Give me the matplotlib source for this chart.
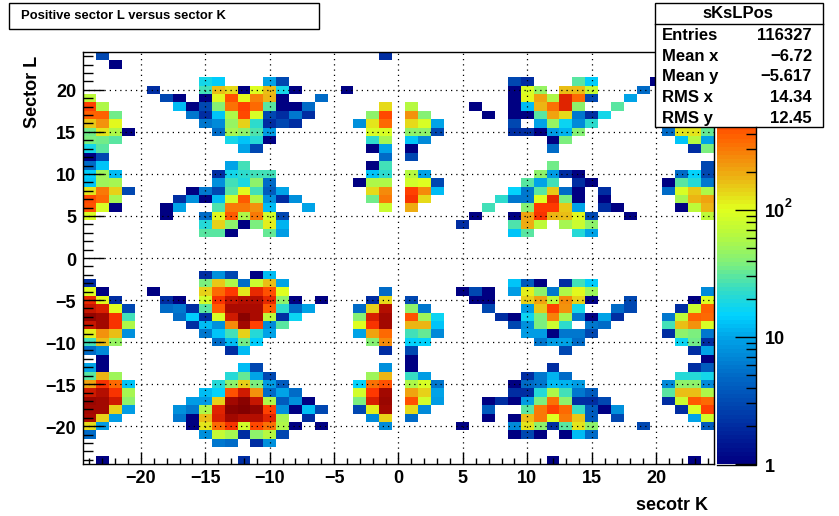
import matplotlib
matplotlib.use("Agg")
import matplotlib.pyplot as plt
import numpy as np
from matplotlib.colors import LinearSegmentedColormap, LogNorm
from matplotlib.patches import Rectangle
from matplotlib.lines import Line2D
from matplotlib.transforms import ScaledTranslation

plt.rcParams['font.family'] = ['Liberation Sans', 'DejaVu Sans']
plt.rcParams['font.weight'] = 'bold'

# bin counts, row by row: {sector K: entries}
row_p24 = {-23: 3, -1: 2}
row_p23 = {-22: 1}
row_p21 = {-15: 18, -14: 14, -10: 10, -9: 3, 9: 3, 10: 2, 14: 30, 15: 14, 20: 1}
row_p20 = {-19: 2, -15: 25, -14: 165, -13: 130, -12: 1, -11: 100, -10: 170, -9: 18, -8: 1, -4: 1,
           9: 1, 10: 95, 11: 48, 13: 170, 14: 170, 15: 75, 19: 5}
row_p19 = {-24: 70, -18: 3, -17: 1, -15: 1, -14: 110, -13: 440, -12: 110, -11: 290, -10: 180, -9: 1, -6: 5,
           9: 1, 10: 105, 11: 210, 12: 60, 13: 720, 14: 360, 15: 3, 18: 10}
row_p18 = {-24: 510, -23: 60, -17: 12, -16: 1, -15: 3, -14: 40, -13: 330, -12: 530, -11: 360, -10: 30,
           -9: 1, -8: 1, -7: 5, -1: 130, 1: 65, 6: 1, 9: 1, 10: 12, 11: 180, 12: 330, 13: 720, 14: 42, 17: 30}
row_p17 = {-24: 380, -23: 380, -22: 35, -16: 6, -15: 2, -14: 13, -13: 60, -12: 470, -11: 90, -10: 3,
           -9: 2, -8: 6, -7: 2, -2: 45, -1: 490, 1: 250, 2: 40, 7: 1, 9: 1, 10: 1, 11: 30, 12: 210,
           13: 130, 14: 6, 15: 2, 16: 18}
row_p16 = {-24: 150, -23: 250, -22: 110, -15: 6, -14: 7, -13: 48, -12: 140, -11: 22, -10: 2, -9: 3, -8: 2,
           -3: 8, -2: 120, -1: 360, 1: 130, 2: 95, 3: 10, 9: 3, 11: 10, 12: 48, 13: 17, 14: 7, 15: 22}
row_p15 = {-24: 35, -23: 120, -22: 60, -21: 1, -14: 5, -13: 55, -12: 42, -11: 28, -10: 9, -2: 95, -1: 90,
           1: 45, 2: 45, 3: 3, 9: 2, 10: 2, 11: 1, 12: 9, 13: 11, 14: 40, 21: 5, 22: 125, 23: 125, 24: 32}
row_p14 = {-24: 38, -23: 36, -22: 30, -13: 18, -12: 13, -11: 21, -10: 1, -2: 22, -1: 55,
           1: 13, 2: 7, 12: 1, 13: 38, 22: 13, 23: 65, 24: 10}
row_p13 = {-24: 18, -23: 30, -12: 10, -11: 3, -2: 1, -1: 10, 1: 1, 12: 5, 23: 2, 24: 38}
row_p12 = {-24: 1, -23: 3, -1: 5, 1: 3}
row_p11 = {-24: 5, -23: 13, -13: 10, -12: 25, -2: 1, -1: 25, 12: 36, 24: 3}
row_p10 = {-24: 14, -23: 50, -22: 12, -14: 2, -13: 18, -12: 22, -11: 25, -10: 25, -2: 13, -1: 22,
           1: 65, 2: 10, 11: 42, 12: 9, 13: 2, 14: 1, 22: 5, 23: 15, 24: 3}
row_p9 = {-24: 13, -23: 50, -22: 55, -14: 8, -13: 25, -12: 19, -11: 42, -10: 5, -3: 1, -2: 60, -1: 60,
          1: 85, 2: 100, 3: 3, 10: 30, 11: 10, 12: 25, 14: 2, 15: 1, 21: 1, 22: 30, 23: 20, 24: 6}
row_p8 = {-24: 120, -23: 310, -22: 140, -21: 3, -16: 1, -15: 6, -14: 3, -13: 30, -12: 110, -11: 26, -10: 4,
          -9: 10, -2: 130, -1: 270, 1: 510, 2: 270, 3: 12, 9: 15, 10: 6, 11: 30, 12: 150, 13: 5, 14: 1,
          16: 2, 21: 5, 22: 90, 23: 150, 24: 58}
row_p7 = {-24: 490, -23: 360, -22: 55, -17: 2, -16: 8, -15: 1, -14: 12, -13: 85, -12: 410, -11: 60, -10: 8,
          -9: 2, -8: 8, -2: 35, -1: 310, 1: 580, 2: 130, 8: 22, 9: 6, 10: 6, 11: 100, 12: 680, 13: 38,
          14: 1, 16: 1, 22: 55, 23: 180, 24: 210}
row_p6 = {-24: 440, -23: 90, -22: 1, -18: 1, -17: 10, -14: 28, -13: 310, -12: 310, -11: 240, -10: 12, -7: 10,
          -1: 80, 1: 190, 7: 25, 10: 40, 11: 550, 12: 550, 13: 150, 14: 10, 16: 2, 17: 1, 22: 1, 23: 70, 24: 180}
row_p5 = {-24: 90, -18: 1, -15: 5, -14: 110, -13: 410, -12: 60, -11: 310, -10: 85, -9: 3,
          6: 1, 9: 1, 10: 210, 11: 600, 12: 180, 13: 170, 14: 110, 15: 3, 18: 1, 24: 70}
row_p4 = {-15: 20, -14: 140, -13: 45, -12: 1, -11: 38, -10: 115, -9: 11,
          5: 2, 9: 28, 10: 190, 11: 70, 13: 55, 14: 80, 15: 45}
row_p3 = {-15: 30, -14: 30, -13: 1, -10: 32, -9: 9, 9: 13, 10: 30, 14: 20, 15: 10}
row_m2 = {-15: 2, -14: 8, -13: 3, -11: 1, -10: 12}
row_m3 = {-24: 2, -15: 38, -14: 150, -13: 60, -12: 5, -11: 80, -10: 170, -9: 10,
          9: 13, 10: 4, 11: 1, 13: 2, 14: 25, 15: 14}
row_m4 = {-24: 100, -23: 1, -19: 1, -15: 140, -14: 360, -13: 550, -12: 120, -11: 680, -10: 440, -9: 100, -1: 5,
          5: 1, 6: 3, 7: 1, 9: 9, 10: 115, 11: 42, 12: 6, 13: 58, 14: 110, 15: 50, 24: 7}
row_m5 = {-24: 680, -23: 105, -22: 2, -18: 2, -17: 1, -15: 85, -14: 580, -13: 950, -12: 1050, -11: 1050,
          -10: 680, -9: 45, -8: 1, -6: 1, -2: 2, -1: 130, 1: 3, 6: 1, 7: 1, 10: 140, 11: 210, 12: 70, 13: 270,
          14: 140, 15: 1, 18: 3, 23: 1, 24: 100}
row_m6 = {-24: 950, -23: 820, -22: 100, -21: 3, -18: 5, -17: 6, -16: 2, -15: 30, -14: 410, -13: 1150, -12: 1150,
          -11: 1150, -10: 410, -9: 22, -8: 5, -7: 10, -3: 5, -2: 140, -1: 1050, 1: 42, 2: 6, 7: 3, 10: 9, 11: 150,
          12: 510, 13: 250, 14: 18, 17: 5, 18: 3, 22: 2, 23: 80, 24: 380}
row_m7 = {-24: 1450, -23: 1250, -22: 600, -21: 25, -17: 5, -16: 14, -15: 2, -14: 90, -13: 860, -12: 1600,
          -11: 1150, -10: 70, -9: 2, -8: 17, -3: 40, -2: 820, -1: 1250, 1: 440, 2: 50, 3: 17, 8: 2, 9: 1, 10: 17,
          11: 38, 12: 290, 13: 55, 14: 6, 15: 1, 16: 10, 17: 2, 21: 6, 22: 70, 23: 380, 24: 360}
row_m8 = {-24: 950, -23: 1250, -22: 580, -21: 60, -16: 2, -15: 12, -14: 8, -13: 270, -12: 1250, -11: 510, -10: 7,
          -9: 30, -3: 100, -2: 580, -1: 1300, 1: 180, 2: 180, 3: 13, 9: 3, 10: 8, 11: 38, 12: 80, 13: 22, 15: 6,
          16: 5, 21: 25, 22: 170, 23: 240, 24: 90}
row_m9 = {-24: 115, -23: 250, -22: 170, -21: 8, -15: 6, -14: 13, -13: 25, -12: 140, -11: 20, -10: 10, -3: 10,
          -2: 210, -1: 360, 1: 25, 2: 33, 3: 7, 10: 9, 11: 9, 12: 1, 13: 6, 14: 6, 15: 3, 21: 2, 22: 42, 23: 38, 24: 6}
row_m10 = {-24: 25, -23: 170, -22: 48, -14: 5, -13: 12, -12: 36, -11: 14, -2: 40, -1: 270,
           1: 15, 2: 15, 11: 6, 12: 9, 13: 10, 14: 5, 22: 16, 23: 34, 24: 2}
row_m11 = {-24: 5, -23: 7, -13: 2, -12: 12, -1: 2, 1: 3, 13: 3, 23: 2, 24: 10}
row_m12 = {-23: 1, 1: 1, 24: 1}
row_m13 = {-24: 10, -23: 1, -12: 12, -11: 3, -1: 8, 1: 1, 12: 2, 23: 2, 24: 4}
row_m14 = {-24: 30, -23: 180, -22: 50, -13: 20, -12: 32, -11: 10, -10: 3, -2: 52, -1: 180,
           1: 24, 2: 9, 10: 2, 11: 6, 12: 11, 13: 5, 22: 20, 23: 20, 24: 18}
row_m15 = {-24: 210, -23: 580, -22: 360, -21: 13, -14: 20, -13: 42, -12: 140, -11: 38, -10: 9, -9: 4,
           -3: 15, -2: 330, -1: 440, 1: 60, 2: 95, 3: 6, 9: 1, 10: 5, 11: 6, 12: 12, 13: 11, 14: 9,
           21: 7, 22: 45, 23: 45, 24: 7}
row_m16 = {-24: 860, -23: 1050, -22: 580, -21: 55, -15: 12, -14: 15, -13: 440, -12: 860, -11: 240, -10: 5, -9: 10,
           -8: 5, -3: 85, -2: 550, -1: 1250, 1: 210, 2: 140, 3: 10, 9: 2, 10: 2, 11: 20, 12: 58, 13: 26, 14: 6,
           15: 4, 21: 30, 22: 170, 23: 170, 24: 60}
row_m17 = {-24: 1400, -23: 1300, -22: 860, -21: 42, -16: 9, -15: 9, -14: 140, -13: 1250, -12: 1600, -11: 950,
           -10: 60, -9: 4, -8: 8, -7: 1, -3: 38, -2: 780, -1: 1400, 1: 440, 2: 85, 3: 9, 7: 1, 8: 2, 9: 1, 10: 9,
           11: 38, 12: 330, 13: 42, 14: 2, 15: 2, 16: 3, 21: 2, 22: 80, 23: 410, 24: 360}
row_m18 = {-24: 1300, -23: 1300, -22: 140, -21: 9, -17: 8, -16: 6, -15: 60, -14: 720, -13: 1600, -12: 1700,
           -11: 1450, -10: 530, -9: 8, -8: 1, -7: 12, -6: 3, -3: 3, -2: 115, -1: 1250, 1: 130, 2: 7, 7: 4, 10: 30,
           11: 310, 12: 510, 13: 360, 14: 24, 15: 4, 16: 1, 17: 8, 22: 2, 23: 95, 24: 530}
row_m19 = {-24: 1150, -23: 145, -22: 9, -17: 6, -16: 1, -15: 170, -14: 820, -13: 1300, -12: 1050, -11: 1050,
           -10: 720, -9: 55, -7: 2, -2: 7, -1: 140, 1: 5, 7: 1, 9: 1, 10: 165, 11: 310, 12: 100, 13: 310, 14: 160,
           15: 4, 17: 3, 23: 10, 24: 85}
row_m20 = {-24: 130, -23: 9, -16: 1, -15: 125, -14: 360, -13: 600, -12: 85, -11: 470, -10: 330, -9: 60, -8: 1,
           -6: 1, -1: 7, 5: 1, 9: 7, 10: 125, 11: 45, 12: 2, 13: 30, 14: 120, 15: 45, 19: 3, 24: 4}
row_m21 = {-24: 5, -15: 8, -14: 75, -13: 55, -12: 2, -11: 45, -10: 65, -9: 3,
           9: 1, 10: 3, 11: 1, 13: 1, 14: 12, 15: 5}
row_m22 = {-14: 6, -13: 5, -11: 2, -10: 8}
row_m24 = {-23: 1, -12: 2, 12: 1, 23: 1}

rows = {24: row_p24, 23: row_p23, 21: row_p21, 20: row_p20, 19: row_p19, 18: row_p18, 17: row_p17,
        16: row_p16, 15: row_p15, 14: row_p14, 13: row_p13, 12: row_p12, 11: row_p11, 10: row_p10,
        9: row_p9, 8: row_p8, 7: row_p7, 6: row_p6, 5: row_p5, 4: row_p4, 3: row_p3,
        -2: row_m2, -3: row_m3, -4: row_m4, -5: row_m5, -6: row_m6, -7: row_m7, -8: row_m8,
        -9: row_m9, -10: row_m10, -11: row_m11, -12: row_m12, -13: row_m13, -14: row_m14,
        -15: row_m15, -16: row_m16, -17: row_m17, -18: row_m18, -19: row_m19, -20: row_m20,
        -21: row_m21, -22: row_m22, -24: row_m24}

stats_names = ["Entries", "Mean x", "Mean y", "RMS x", "RMS y"]
stats_values = ["116327", "\u22126.72", "\u22125.617", "14.34", "12.45"]

palette_stops = [(0.00, (0, 0, 130)), (0.10, (0, 50, 165)), (0.20, (0, 100, 195)), (0.30, (0, 160, 230)),
                 (0.36, (0, 210, 255)), (0.42, (50, 220, 200)), (0.49, (130, 240, 120)), (0.56, (185, 250, 60)),
                 (0.62, (225, 255, 30)), (0.66, (230, 215, 25)), (0.72, (240, 160, 15)), (0.80, (255, 95, 0)),
                 (0.85, (255, 55, 0)), (0.90, (215, 30, 0)), (0.95, (170, 10, 0)), (1.00, (130, 0, 0))]

W, H = 839, 516
edges = np.arange(-24.5, 25.5, 1)
z = np.full((49, 49), np.nan)
for l, row in rows.items():
    for k, n in row.items():
        z[l + 24, k + 24] = n

cmap = LinearSegmentedColormap.from_list(
    "root", [(s, tuple(c / 255 for c in col)) for s, col in palette_stops], N=100)
norm = LogNorm(vmin=1, vmax=1754)

fig = plt.figure(figsize=(W / 100, H / 100), dpi=100)
ax = fig.add_axes([83 / W, 1 - 464 / H, (714 - 83) / W, (464 - 52) / H])
mesh = ax.pcolormesh(edges, edges, z, cmap=cmap, norm=norm)

ax.set_xlim(-24.5, 24.5)
ax.set_ylim(-24.5, 24.5)
ax.set_axisbelow(False)
ax.grid(which='major', linewidth=0.9, linestyle=(0, (1, 3.2)), color='black')
ax.set_xticks(np.arange(-20, 21, 5))
ax.set_yticks(np.arange(-20, 21, 5))
ax.set_xticks(np.arange(-24, 25, 1), minor=True)
ax.set_yticks(np.arange(-24, 25, 1), minor=True)
ax.set_xticklabels(["\u2212%d" % -v if v < 0 else "%d" % v for v in np.arange(-20, 21, 5)])
ax.set_yticklabels(["\u2212%d" % -v if v < 0 else "%d" % v for v in np.arange(-20, 21, 5)])
ax.tick_params(axis='x', which='major', direction='in', length=8.6, width=1, labelsize=13, pad=4)
ax.tick_params(axis='x', which='minor', direction='in', length=4.3, width=1)
ax.tick_params(axis='y', which='major', direction='in', length=15, width=1, labelsize=13, pad=5)
ax.tick_params(axis='y', which='minor', direction='in', length=7.5, width=1)
for s in ax.spines.values():
    s.set_linewidth(1)

# colour scale
cax = fig.add_axes([717 / W, 1 - 464 / H, (755.5 - 717) / W, (464 - 52) / H])
cb = fig.colorbar(mesh, cax=cax)
cb.outline.set_visible(False)
cb.set_ticks([1, 10, 100], labels=["1", "10", "10"])
cb.ax.yaxis.set_minor_locator(matplotlib.ticker.FixedLocator(
    [m * d for d in (1, 10, 100, 1000) for m in range(2, 10) if m * d < 1754]))
cb.ax.yaxis.set_minor_formatter(matplotlib.ticker.NullFormatter())
cax.tick_params(which='major', direction='in', length=15, width=1, labelsize=13, pad=6.5)
cax.tick_params(which='minor', direction='in', length=7.5, width=1)

# tick labels sit a pixel lower in the original
down = ScaledTranslation(0, -1 / 100, fig.dpi_scale_trans)
for lab in ax.get_yticklabels() + cax.get_yticklabels():
    lab.set_transform(lab.get_transform() + down)

# overlay in pixel coordinates for the boxes and axis titles
ov = fig.add_axes([0, 0, 1, 1], zorder=10)
ov.set_xlim(0, W)
ov.set_ylim(H, 0)
ov.axis('off')
ov.patch.set_visible(False)

ov.add_line(Line2D([755.5, 755.5, 717], [127, 464.5, 464.5], color='black', linewidth=1))
ov.text(785, 204, "2", fontsize=9, ha='left', va='center')

ov.add_patch(Rectangle((9, 2.5), 310, 26, facecolor='white', edgecolor='black', linewidth=1))
ov.text(21, 16, "Positive sector L versus sector K", fontsize=9.35, ha='left', va='center')

ov.add_patch(Rectangle((654.5, 2.5), 168, 124.5, facecolor='white', edgecolor='black', linewidth=1))
ov.add_line(Line2D([654.5, 822.5], [23.5, 23.5], color='black', linewidth=1))
ov.text(738, 13, "sKsLPos", fontsize=12, ha='center', va='center')
for i, (name, val) in enumerate(zip(stats_names, stats_values)):
    y = 35.5 + i * 20.7
    ov.text(662, y, name, fontsize=12, ha='left', va='center')
    ov.text(812, y, val, fontsize=12, ha='right', va='center')

ov.text(708, 506, "secotr K", fontsize=13, ha='right', va='center')
ov.text(32.5, 128, "Sector L", fontsize=13, rotation=90, ha='center', va='bottom')

fig.savefig("out.png", dpi=100)
